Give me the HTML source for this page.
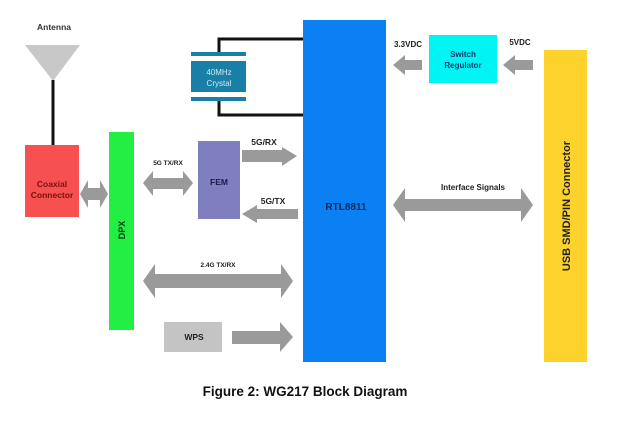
<!DOCTYPE html>
<html><head><meta charset="utf-8"><style>
body{margin:0;background:#fff;}
svg{display:block;font-family:"Liberation Sans",Arial,sans-serif;font-weight:bold;}
</style></head><body>
<svg width="634" height="440" viewBox="0 0 634 440" xmlns="http://www.w3.org/2000/svg">
<rect width="634" height="440" fill="#fff"/>
<text x="54" y="30" font-size="8.5" text-anchor="middle" fill="#333">Antenna</text>
<polygon points="25,45 80,45 53,81" fill="#c8c8c8"/>
<line x1="53" y1="80" x2="53" y2="146" stroke="#111" stroke-width="3"/>
<rect x="25" y="145" width="54" height="72" fill="#f65050"/>
<text x="52" y="187" font-size="8.5" text-anchor="middle" fill="#7a1010">Coaxial</text>
<text x="52" y="198" font-size="8.5" text-anchor="middle" fill="#7a1010">Connector</text>
<rect x="109" y="132" width="25" height="198" fill="#22ee44"/>
<text transform="translate(125,230) rotate(-90)" font-size="9" text-anchor="middle" fill="#0a3a10">DPX</text>
<polyline points="219,52 219,39 304,39" fill="none" stroke="#111" stroke-width="3"/>
<polyline points="219,101 219,115 304,115" fill="none" stroke="#111" stroke-width="3"/>
<rect x="191" y="52" width="55" height="4" fill="#1a7fa6"/>
<rect x="191" y="61" width="55" height="31" fill="#1a7fa6"/>
<rect x="191" y="97" width="55" height="4" fill="#1a7fa6"/>
<text x="219" y="75" font-size="8" font-weight="normal" text-anchor="middle" fill="#cfe8f2">40MHz</text>
<text x="219" y="86" font-size="8" font-weight="normal" text-anchor="middle" fill="#cfe8f2">Crystal</text>
<rect x="198" y="141" width="42" height="78" fill="#7f7fc0"/>
<text x="219" y="185" font-size="8.5" text-anchor="middle" fill="#1a1a50">FEM</text>
<rect x="303" y="20" width="83" height="342" fill="#0a80f2"/>
<text x="346" y="210" font-size="10" text-anchor="middle" fill="#0a2a5a">RTL8811</text>
<rect x="429" y="35" width="68" height="48" fill="#00f4f4"/>
<text x="463" y="57" font-size="8" text-anchor="middle" fill="#136">Switch</text>
<text x="463" y="68" font-size="8" text-anchor="middle" fill="#136">Regulator</text>
<rect x="544" y="50" width="43" height="312" fill="#fdd22c"/>
<text transform="translate(570,206) rotate(-90)" font-size="11" text-anchor="middle" fill="#222">USB SMD/PIN Connector</text>
<rect x="164" y="322" width="58" height="30" fill="#c4c4c4"/>
<text x="194" y="340" font-size="8.5" text-anchor="middle" fill="#222">WPS</text>
<g fill="#9a9a9a">
<polygon points="242,150 282,150 282,147 297,156 282,166 282,162 242,162"/>
<polygon points="298,209 257,209 257,205 242,214 257,223 257,219 298,219"/>
<polygon points="143,183 153,171 153,178 183,178 183,171 193,183 183,196 183,189 153,189 153,196"/>
<polygon points="80,194 88,180 88,188 100,188 100,180 108,194 100,208 100,200 88,200 88,208"/>
<polygon points="143,281 155,264 155,274 281,274 281,264 293,281 281,298 281,288 155,288 155,298"/>
<polygon points="232,331 280,331 280,322 293,337 280,352 280,344 232,344"/>
<polygon points="393,205 405,188 405,199 521,199 521,188 533,205 521,222 521,211 405,211 405,222"/>
<polygon points="422,60 405,60 405,55 393,65 405,75 405,70 422,70"/>
<polygon points="533,60 515,60 515,55 503,65 515,75 515,70 533,70"/>
</g>
<text x="264" y="145" font-size="8.5" text-anchor="middle" fill="#222">5G/RX</text>
<text x="273" y="204" font-size="8.5" text-anchor="middle" fill="#222">5G/TX</text>
<text x="168" y="165" font-size="6.5" text-anchor="middle" fill="#222">5G TX/RX</text>
<text x="218" y="267" font-size="6.5" text-anchor="middle" fill="#222">2.4G TX/RX</text>
<text x="473" y="190" font-size="8" text-anchor="middle" fill="#222">Interface Signals</text>
<text x="408" y="47" font-size="8" text-anchor="middle" fill="#222">3.3VDC</text>
<text x="520" y="45" font-size="8" text-anchor="middle" fill="#222">5VDC</text>
<text x="305" y="396" font-size="13.5" text-anchor="middle" fill="#111">Figure 2: WG217 Block Diagram</text>
</svg>
</body></html>
